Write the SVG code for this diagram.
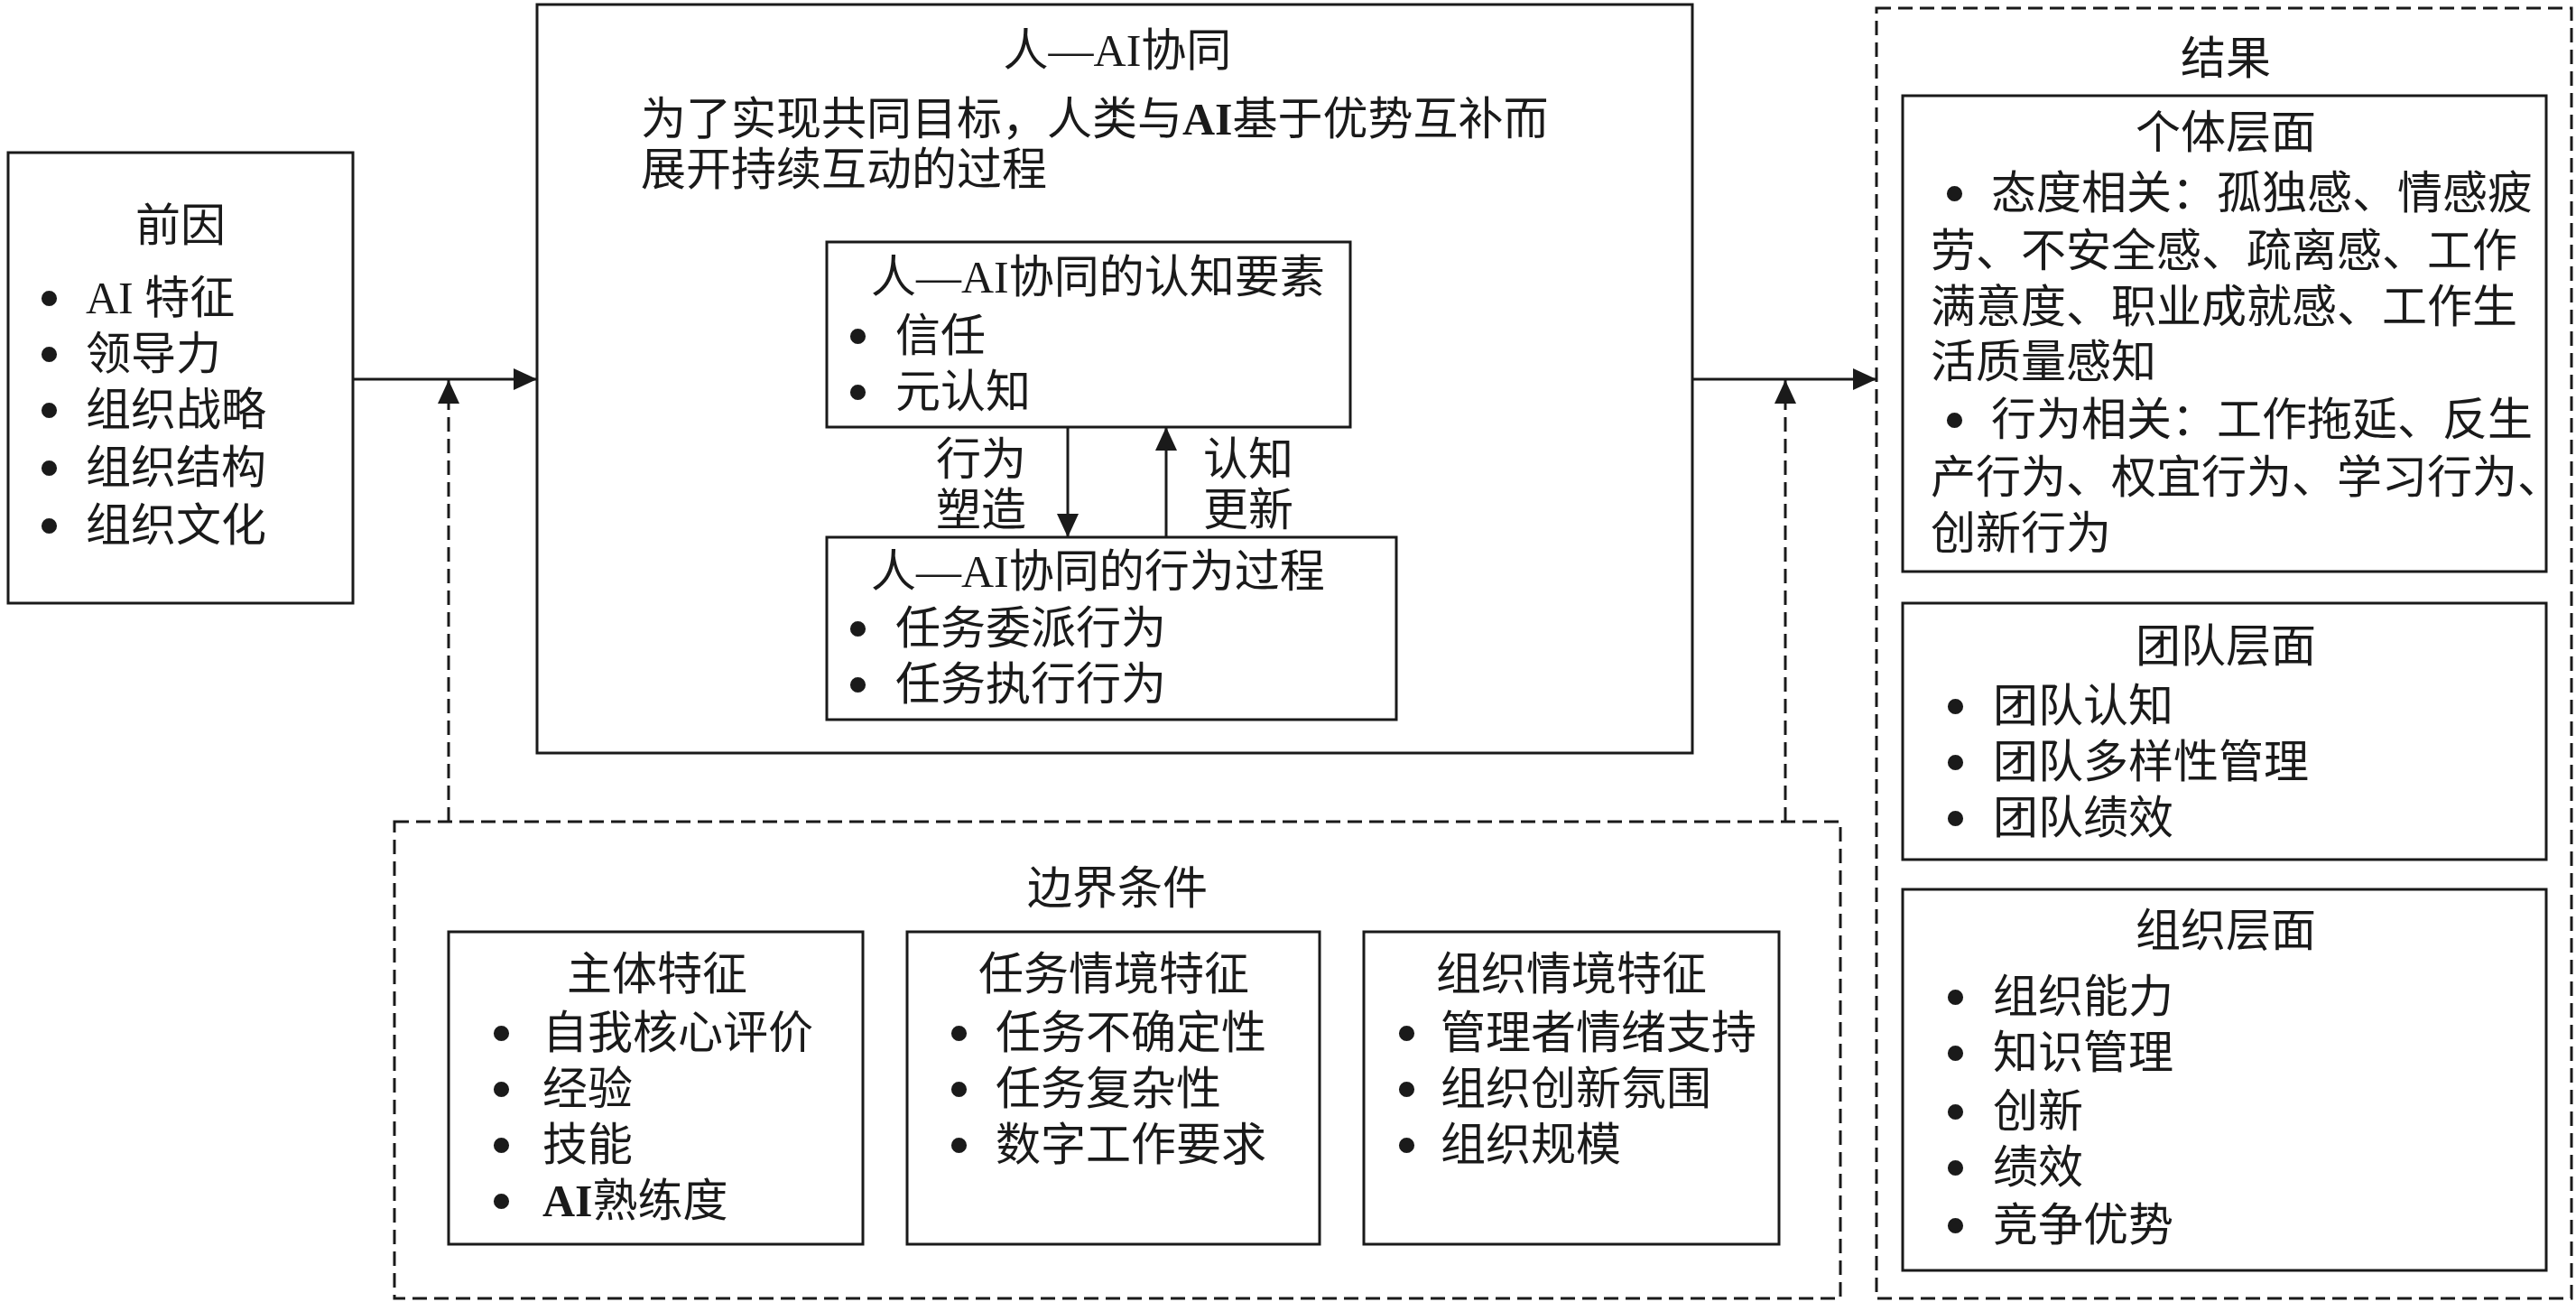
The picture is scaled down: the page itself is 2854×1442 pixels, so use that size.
<svg xmlns="http://www.w3.org/2000/svg" width="2854" height="1442" viewBox="0 0 2854 1442">
<style>
text{font-family:"Liberation Serif","Noto Sans CJK SC",serif;font-size:50px;fill:#1a1a1a}
.t{text-anchor:middle}
.bu{font-family:"Liberation Sans",sans-serif;font-size:60px;font-weight:bold}
.box{fill:none;stroke:#1a1a1a;stroke-width:3}
.dbox{fill:none;stroke:#1a1a1a;stroke-width:3;stroke-dasharray:16 8}
.ln{fill:none;stroke:#1a1a1a;stroke-width:3}
.dln{fill:none;stroke:#1a1a1a;stroke-width:3;stroke-dasharray:16 8}
.b{font-weight:bold}
</style>
<defs>
<marker id="ah" markerUnits="userSpaceOnUse" markerWidth="26" markerHeight="24" refX="26" refY="12" orient="auto" viewBox="0 0 26 24">
<path d="M0,0 L26,12 L0,24 z" fill="#1a1a1a"/>
</marker>
</defs>
<rect width="2854" height="1442" fill="#fff"/>

<g id="antecedents">
<rect class="box" x="9" y="169" width="382" height="499"/>
<text class="t" x="200" y="267">前因</text>
<text class="bu" x="44" y="350">•</text><text x="95" y="347">AI 特征</text>
<text class="bu" x="44" y="412">•</text><text x="95" y="409">领导力</text>
<text class="bu" x="44" y="474">•</text><text x="95" y="471">组织战略</text>
<text class="bu" x="44" y="538">•</text><text x="95" y="535">组织结构</text>
<text class="bu" x="44" y="602">•</text><text x="95" y="599">组织文化</text>
</g>

<g id="collaboration">
<rect class="box" x="595" y="5" width="1280" height="829"/>
<text class="t" x="1238" y="73">人—AI协同</text>
<text x="710" y="149">为了实现共同目标，人类与<tspan class="b">AI</tspan>基于优势互补而</text>
<text x="710" y="205">展开持续互动的过程</text>
</g>

<g id="cognitive">
<rect class="box" x="916" y="268" width="580" height="205"/>
<text x="965" y="324">人—AI协同的认知要素</text>
<text class="bu" x="940" y="392">•</text><text x="992" y="389">信任</text>
<text class="bu" x="940" y="454">•</text><text x="992" y="451">元认知</text>
</g>

<g id="behavior">
<rect class="box" x="916" y="595" width="631" height="202"/>
<text x="965" y="650">人—AI协同的行为过程</text>
<text class="bu" x="940" y="716">•</text><text x="992" y="713">任务委派行为</text>
<text class="bu" x="940" y="778">•</text><text x="992" y="775">任务执行行为</text>
</g>

<g id="boundary">
<rect class="dbox" x="437" y="910" width="1602" height="528"/>
<text class="t" x="1238" y="1001">边界条件</text>
</g>

<g id="subject">
<rect class="box" x="497" y="1032" width="459" height="346"/>
<text class="t" x="728" y="1096">主体特征</text>
<text class="bu" x="545" y="1164">•</text><text x="601" y="1161">自我核心评价</text>
<text class="bu" x="545" y="1226">•</text><text x="601" y="1223">经验</text>
<text class="bu" x="545" y="1288">•</text><text x="601" y="1285">技能</text>
<text class="bu" x="545" y="1350">•</text><text x="601" y="1347"><tspan class="b">AI</tspan>熟练度</text>
</g>

<g id="task">
<rect class="box" x="1005" y="1032" width="457" height="346"/>
<text class="t" x="1234" y="1096">任务情境特征</text>
<text class="bu" x="1052" y="1164">•</text><text x="1103" y="1161">任务不确定性</text>
<text class="bu" x="1052" y="1226">•</text><text x="1103" y="1223">任务复杂性</text>
<text class="bu" x="1052" y="1288">•</text><text x="1103" y="1285">数字工作要求</text>
</g>

<g id="organization">
<rect class="box" x="1511" y="1032" width="460" height="346"/>
<text class="t" x="1741" y="1096">组织情境特征</text>
<text class="bu" x="1548" y="1164">•</text><text x="1596" y="1161">管理者情绪支持</text>
<text class="bu" x="1548" y="1226">•</text><text x="1596" y="1223">组织创新氛围</text>
<text class="bu" x="1548" y="1288">•</text><text x="1596" y="1285">组织规模</text>
</g>

<g id="outcomes">
<rect class="dbox" x="2079" y="9" width="770" height="1429"/>
<text class="t" x="2466" y="82">结果</text>
</g>

<g id="individual">
<rect class="box" x="2108" y="106" width="713" height="527"/>
<text class="t" x="2466" y="164">个体层面</text>
<text class="bu" x="2155" y="234">•</text><text x="2206" y="231">态度相关：孤独感、情感疲</text>
<text x="2139" y="295">劳、不安全感、疏离感、工作</text>
<text x="2139" y="357">满意度、职业成就感、工作生</text>
<text x="2139" y="418">活质量感知</text>
<text class="bu" x="2155" y="485">•</text><text x="2206" y="482">行为相关：工作拖延、反生</text>
<text x="2139" y="546">产行为、权宜行为、学习行为、</text>
<text x="2139" y="608">创新行为</text>
</g>

<g id="team">
<rect class="box" x="2108" y="668" width="713" height="284"/>
<text class="t" x="2466" y="733">团队层面</text>
<text class="bu" x="2156" y="802">•</text><text x="2208" y="799">团队认知</text>
<text class="bu" x="2156" y="864">•</text><text x="2208" y="861">团队多样性管理</text>
<text class="bu" x="2156" y="926">•</text><text x="2208" y="923">团队绩效</text>
</g>

<g id="org-level">
<rect class="box" x="2108" y="985" width="713" height="422"/>
<text class="t" x="2466" y="1048">组织层面</text>
<text class="bu" x="2156" y="1124">•</text><text x="2208" y="1121">组织能力</text>
<text class="bu" x="2156" y="1186">•</text><text x="2208" y="1183">知识管理</text>
<text class="bu" x="2156" y="1251">•</text><text x="2208" y="1248">创新</text>
<text class="bu" x="2156" y="1313">•</text><text x="2208" y="1310">绩效</text>
<text class="bu" x="2156" y="1377">•</text><text x="2208" y="1374">竞争优势</text>
</g>

<g id="connectors">
<line class="ln" x1="391" y1="420" x2="595" y2="420" marker-end="url(#ah)"/>
<line class="dln" x1="497" y1="910" x2="497" y2="421" marker-end="url(#ah)"/>
<line class="ln" x1="1875" y1="420" x2="2079" y2="420" marker-end="url(#ah)"/>
<line class="dln" x1="1978" y1="910" x2="1978" y2="421" marker-end="url(#ah)"/>
<line class="ln" x1="1183" y1="473" x2="1183" y2="595" marker-end="url(#ah)"/>
<line class="ln" x1="1292" y1="595" x2="1292" y2="473" marker-end="url(#ah)"/>
<text class="t" x="1087" y="526">行为</text>
<text class="t" x="1087" y="582">塑造</text>
<text class="t" x="1383" y="526">认知</text>
<text class="t" x="1383" y="582">更新</text>
</g>
</svg>
